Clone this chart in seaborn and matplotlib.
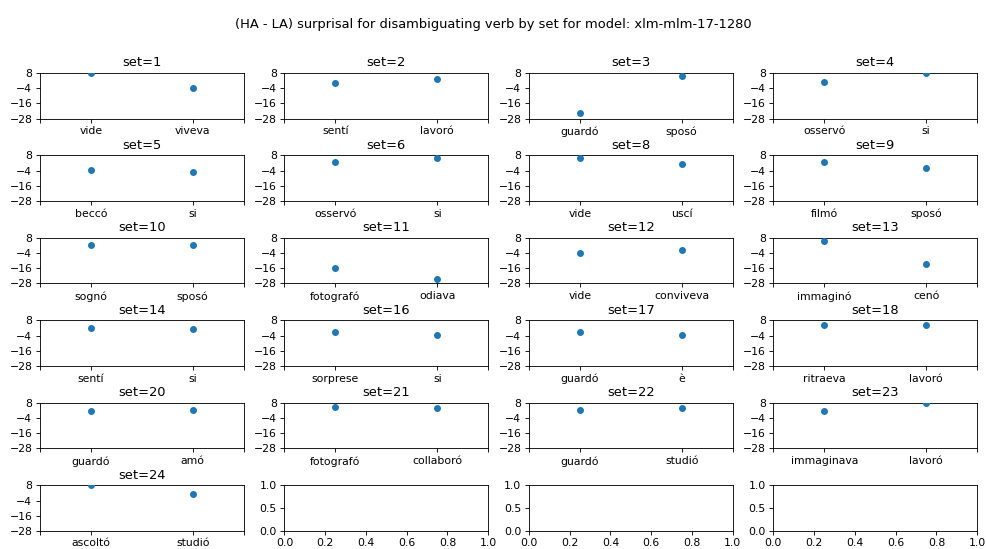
import matplotlib
matplotlib.use("Agg")
import matplotlib.pyplot as plt
import seaborn as sns
import pandas as pd

# Disambiguating verb pairs per set, with (HA - LA) surprisal values
sets = [1, 2, 3, 4, 5, 6, 8, 9, 10, 11, 12, 13, 14, 16, 17, 18, 20, 21, 22, 23, 24]
verb_a = ["vide", "sentí", "guardó", "osservó", "beccó", "osservó", "vide", "filmó",
          "sognó", "fotografó", "vide", "immaginó", "sentí", "sorprese", "guardó",
          "ritraeva", "guardó", "fotografó", "guardó", "immaginava", "ascoltó"]
verb_b = ["viveva", "lavoró", "sposó", "si", "si", "si", "uscí", "sposó",
          "sposó", "odiava", "conviveva", "cenó", "si", "si", "è",
          "lavoró", "amó", "collaboró", "studió", "lavoró", "studió"]
value_a = [8.4, 0.0, -23.2, 0.8, -3.8, 3.0, 6.2, 3.0,
           2.2, -15.4, -3.6, 5.9, 1.7, -1.5, -1.5,
           4.3, 1.4, 4.6, 2.4, 1.4, 8.0]
value_b = [-3.7, 3.2, 5.9, 8.3, -5.1, 6.2, 1.2, -2.0,
           2.2, -24.1, -1.7, -12.3, 1.3, -3.3, -3.8,
           4.3, 2.7, 3.8, 4.2, 7.7, 1.1]

yticks = [-28, -16, -4, 8]

rows = []
for s, va, vb, xa, xb in zip(sets, verb_a, verb_b, value_a, value_b):
    rows.append({"set": s, "verb": va, "surprisal": xa})
    rows.append({"set": s, "verb": vb, "surprisal": xb})
df = pd.DataFrame(rows)

DPI = 987 / 12.6
fig, axes = plt.subplots(6, 4, figsize=(12.6, 549 / DPI), dpi=DPI)
fig.subplots_adjust(left=0.0405, right=0.99, top=0.867, bottom=0.033,
                    wspace=0.2, hspace=0.81)

flat = axes.flatten()
for ax, s in zip(flat, sets):
    sub = df[df["set"] == s]
    sns.stripplot(data=sub, x="verb", y="surprisal", jitter=False,
                  color="#1f77b4", size=6.4, linewidth=0, ax=ax)
    names = list(sub["verb"])
    ax.set_xticks([-0.5, 0, 1, 1.5], [""] + names + [""])
    ax.set_xlim(-0.5, 1.5)
    ax.set_ylim(-28, 8)
    ax.set_yticks(yticks)
    ax.set_title(f"set={s}")
    ax.set_xlabel("")
    ax.set_ylabel("")

fig.suptitle("(HA - LA) surprisal for disambiguating verb by set for model: xlm-mlm-17-1280",
             y=0.967)

fig.savefig("out.png", dpi=DPI)
